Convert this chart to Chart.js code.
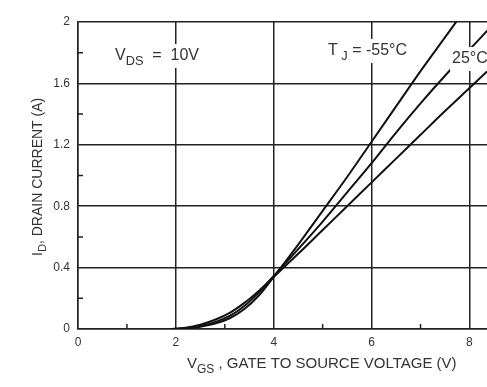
<!DOCTYPE html>
<html>
<head>
<meta charset="utf-8">
<script src="https://cdn.jsdelivr.net/npm/chart.js@4.4.1/dist/chart.umd.min.js"></script>
<style>
  html, body { margin: 0; padding: 0; background: #fff; overflow: hidden; }
  #wrap { width: 580px; height: 387px; }
</style>
</head>
<body>
<div id="wrap"><canvas id="myChart"></canvas></div>
<script>
// gate voltage (V) sample points, shared by all curves
const vgs = [1.9, 2.2, 2.5, 2.8, 3.1, 3.4, 3.7, 4.0, 4.5, 5.0, 5.5, 6.0, 6.5, 7.0, 7.5, 8.0, 8.5];
// drain current (A) for each junction temperature
const idMinus55 = [0, 0.003, 0.015, 0.035, 0.07, 0.13, 0.22, 0.34, 0.55, 0.77, 0.99, 1.22, 1.45, 1.68, 1.90, 2.12, 2.34];
const id25 = [0, 0.005, 0.02, 0.045, 0.085, 0.15, 0.24, 0.345, 0.52, 0.70, 0.89, 1.08, 1.28, 1.47, 1.65, 1.82, 1.99];
const id125 = [0, 0.008, 0.028, 0.06, 0.105, 0.17, 0.25, 0.34, 0.49, 0.645, 0.80, 0.955, 1.11, 1.265, 1.42, 1.57, 1.72];
const seriesNames = ["-55°C", "25°C", "125°C"];
const xTicks = [0, 2, 4, 6, 8, 10];
const yTicks = [0, 0.4, 0.8, 1.2, 1.6, 2];
const xMinor = [1, 3, 5, 7, 9];
const yMinor = [0.2, 0.6, 1.0, 1.4, 1.8];

const FONT = "'Liberation Sans', Arial, sans-serif";
const TEXT = "#333";

function toPoints(ys) {
  return vgs.map((v, i) => ({ x: v, y: ys[i] }));
}

// text with a subscript, drawn left to right from (x, y)
function subText(ctx, x, y, parts, size) {
  let cx = x;
  parts.forEach(p => {
    const s = p.sub ? size * 0.8 : size;
    ctx.font = s + "px " + FONT;
    ctx.fillText(p.t, cx, p.sub ? y + size * 0.3 : y);
    cx += ctx.measureText(p.t).width;
  });
  return cx - x;
}

// same, with a white box behind it so grid lines break around the label
function boxedText(ctx, x, y, parts, size) {
  ctx.save();
  ctx.globalAlpha = 0;
  const w = subText(ctx, x, y, parts, size);
  ctx.restore();
  ctx.fillStyle = "#fff";
  ctx.fillRect(x - 2, y - size, w + 4, size * 1.5);
  ctx.fillStyle = TEXT;
  subText(ctx, x, y, parts, size);
}

const extras = {
  id: "extras",
  afterDraw(chart) {
    const ctx = chart.ctx;
    const xs = chart.scales.x, ys = chart.scales.y;
    const area = chart.chartArea;
    ctx.save();
    // minor tick marks inside the plot
    ctx.strokeStyle = "#222";
    ctx.lineWidth = 1.5;
    ctx.beginPath();
    xMinor.forEach(v => {
      const px = xs.getPixelForValue(v);
      ctx.moveTo(px, area.bottom);
      ctx.lineTo(px, area.bottom - 5);
    });
    yMinor.forEach(v => {
      const py = ys.getPixelForValue(v);
      ctx.moveTo(area.left, py);
      ctx.lineTo(area.left + 5, py);
    });
    ctx.stroke();

    ctx.textBaseline = "alphabetic";
    ctx.textAlign = "left";
    // annotations
    boxedText(ctx, 115, 60, [{ t: "V" }, { t: "DS", sub: true }, { t: "  =  10V" }], 16);
    boxedText(ctx, 328, 55, [{ t: "T" }, { t: " J", sub: true }, { t: " = -55°C" }], 16);
    boxedText(ctx, 452, 63, [{ t: "25°C" }], 16);

    ctx.fillStyle = TEXT;
    // x axis title
    subText(ctx, 187, 368, [{ t: "V" }, { t: "GS", sub: true }, { t: " , GATE TO SOURCE VOLTAGE (V)" }], 15);

    // y axis title
    ctx.translate(42, 256);
    ctx.rotate(-Math.PI / 2);
    subText(ctx, 0, 0, [{ t: "I" }, { t: "D", sub: true }, { t: ", DRAIN CURRENT (A)" }], 14);
    ctx.restore();
  }
};

const lineStyle = {
  borderColor: "#111",
  borderWidth: 2,
  pointRadius: 0,
  fill: false,
  cubicInterpolationMode: "monotone",
  showLine: true
};

new Chart(document.getElementById("myChart"), {
  type: "scatter",
  data: {
    datasets: [
      { label: seriesNames[0], data: toPoints(idMinus55), ...lineStyle },
      { label: seriesNames[1], data: toPoints(id25), ...lineStyle },
      { label: seriesNames[2], data: toPoints(id125), ...lineStyle }
    ]
  },
  options: {
    responsive: true,
    maintainAspectRatio: false,
    animation: false,
    layout: { padding: { top: 22, right: 11, left: 0, bottom: 0 } },
    plugins: { legend: { display: false }, tooltip: { enabled: false } },
    scales: {
      x: {
        type: "linear",
        min: 0,
        max: 10,
        afterBuildTicks: s => { s.ticks = xTicks.map(v => ({ value: v })); },
        afterFit: s => { s.height = 58; },
        grid: { color: "#222", lineWidth: 1.5, drawTicks: false },
        border: { color: "#222", width: 1.5 },
        ticks: { color: TEXT, font: { family: FONT, size: 12 }, padding: 6, maxRotation: 0, callback: v => String(v) }
      },
      y: {
        type: "linear",
        min: 0,
        max: 2,
        afterBuildTicks: s => { s.ticks = yTicks.map(v => ({ value: v })); },
        afterFit: s => { s.width = 78; },
        grid: { color: "#222", lineWidth: 1.5, drawTicks: false },
        border: { color: "#222", width: 1.5 },
        ticks: { color: TEXT, font: { family: FONT, size: 12 }, padding: 8, callback: v => String(v) }
      }
    }
  },
  plugins: [extras]
});
</script>
</body>
</html>
